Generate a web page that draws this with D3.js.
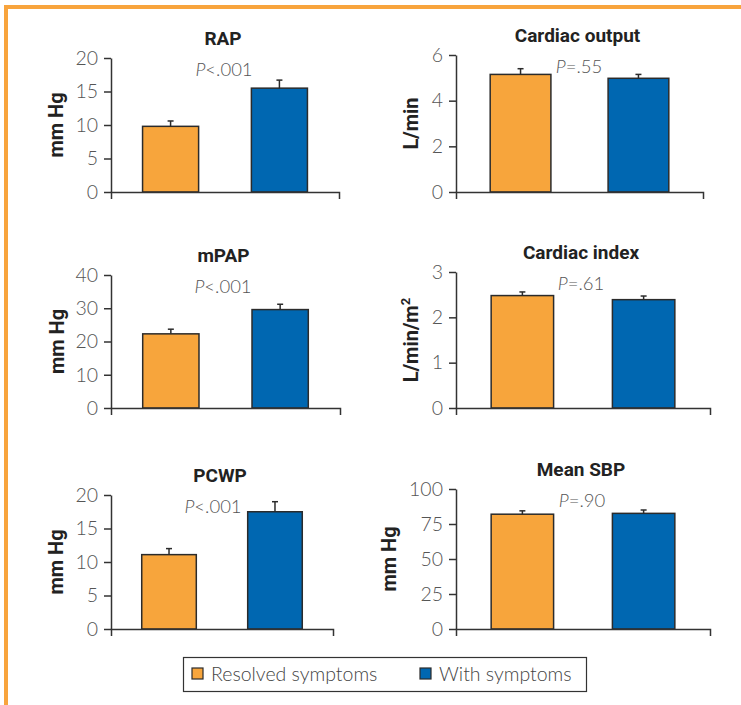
<!DOCTYPE html>
<html>
<head>
<meta charset="utf-8">
<script src="https://cdn.jsdelivr.net/npm/d3@7"></script>
<style>
body { margin: 0; background: #fff; }
svg { display: block; }
</style>
</head>
<body>
<svg id="chart"></svg>
<script>
// values
const groups = ["Resolved symptoms", "With symptoms"];
const titles = ["RAP", "Cardiac output", "mPAP", "Cardiac index", "PCWP", "Mean SBP"];
const yLabels = ["mm Hg", "L/min", "mm Hg", "L/min/m2", "mm Hg", "mm Hg"];
const pValues = ["<.001", "=.55", "<.001", "=.61", "<.001", "=.90"];
const resolvedMeans = [9.8, 5.15, 22.3, 2.48, 11.1, 82];
const resolvedErrors = [0.8, 0.25, 1.4, 0.08, 0.9, 2.4];
const symptomMeans = [15.5, 4.98, 29.6, 2.39, 17.5, 82.6];
const symptomErrors = [1.2, 0.17, 1.6, 0.08, 1.5, 2.4];
const yMax = [20, 6, 40, 3, 20, 100];
const yTicks = [
    [0, 5, 10, 15, 20],
    [0, 2, 4, 6],
    [0, 10, 20, 30, 40],
    [0, 1, 2, 3],
    [0, 5, 10, 15, 20],
    [0, 25, 50, 75, 100]
];

const colors = ["#F7A53C", "#0067B1"];

// where each small panel sits on the page
const layout = [
    {x0: 111, x1: 339, top: 58, zero: 192, labelX: 63, pX: 224},
    {x0: 456, x1: 703, top: 55, zero: 192, labelX: 418, pX: 579},
    {x0: 111, x1: 340, top: 275, zero: 408, labelX: 64, pX: 223},
    {x0: 456, x1: 710, top: 272, zero: 408, labelX: 418, pX: 581},
    {x0: 111, x1: 333, top: 495, zero: 629, labelX: 63, pX: 213},
    {x0: 456, x1: 710, top: 489, zero: 629, labelX: 396, pX: 582}
];

const lightFont = "Lato, 'Open Sans', sans-serif";
const boldFont = "Roboto, 'Noto Sans', sans-serif";

const svg = d3.select('#chart')
    .attr('width', 741)
    .attr('height', 705);

// orange frame on top and left
svg.append('path')
    .attr('d', 'M6,705 V7 H741')
    .attr('fill', 'none')
    .attr('stroke', '#F8A43D')
    .attr('stroke-width', 4);

class BarPanel {

    constructor( config, data ) {
        this.config = config;
        this.data = data;
        this.init();
    }

    init() {
        let self = this;
        const c = self.config;

        self.g = svg.append('g');

        self.xscale = d3.scaleBand()
            .domain( groups )
            .range( [c.x0, c.x1] )
            .paddingInner( 0.485 )
            .paddingOuter( 0.29 );

        self.yscale = d3.scaleLinear()
            .domain( [0, c.ymax] )
            .range( [c.zero, c.top] );

        self.render();
    }

    render() {
        let self = this;
        const c = self.config;

        // bars
        self.g.selectAll('rect.bar')
            .data( self.data )
            .join('rect')
            .attr('class', 'bar')
            .attr('x', d => self.xscale( d.group ))
            .attr('y', d => self.yscale( d.mean ))
            .attr('width', self.xscale.bandwidth())
            .attr('height', d => c.zero - self.yscale( d.mean ))
            .attr('fill', (d, i) => colors[i])
            .attr('stroke', '#2b2b2b')
            .attr('stroke-width', 1.5);

        // error bars (upper half only)
        const cx = d => self.xscale( d.group ) + self.xscale.bandwidth() / 2;
        self.g.selectAll('line.err')
            .data( self.data )
            .join('line')
            .attr('class', 'err')
            .attr('x1', cx).attr('x2', cx)
            .attr('y1', d => self.yscale( d.mean ))
            .attr('y2', d => self.yscale( d.mean + d.err ))
            .attr('stroke', '#2b2b2b')
            .attr('stroke-width', 1.5);
        self.g.selectAll('line.cap')
            .data( self.data )
            .join('line')
            .attr('class', 'cap')
            .attr('x1', d => cx(d) - 3).attr('x2', d => cx(d) + 3)
            .attr('y1', d => self.yscale( d.mean + d.err ))
            .attr('y2', d => self.yscale( d.mean + d.err ))
            .attr('stroke', '#2b2b2b')
            .attr('stroke-width', 1.5);

        // axes
        const yaxis = d3.axisLeft( self.yscale )
            .tickValues( c.ticks )
            .tickFormat( d => d )
            .tickSize( 7 )
            .tickSizeOuter( 0 )
            .tickPadding( 6 );
        self.g.append('g')
            .attr('transform', `translate(${c.x0}, 0)`)
            .call( yaxis )
            .call( g => g.selectAll('path, line').attr('stroke', '#333').attr('stroke-width', 1.5) )
            .call( g => g.selectAll('text')
                .attr('fill', '#555')
                .style('font-family', lightFont)
                .style('font-weight', 300)
                .style('font-size', '19.5px') );

        const xaxis = d3.axisBottom( self.xscale )
            .tickValues( [] )
            .tickSizeOuter( 7 );
        self.g.append('g')
            .attr('transform', `translate(0, ${c.zero})`)
            .call( xaxis )
            .call( g => g.selectAll('path').attr('stroke', '#333').attr('stroke-width', 1.5) );

        // title
        self.g.append('text')
            .attr('x', (c.x0 + c.x1) / 2 - 2)
            .attr('y', c.top - 13)
            .attr('text-anchor', 'middle')
            .style('font-family', boldFont)
            .style('font-weight', 700)
            .style('font-size', '19px')
            .attr('fill', '#222')
            .text( c.title );

        // P value
        const p = self.g.append('text')
            .attr('x', c.pX)
            .attr('y', c.top + 18)
            .attr('text-anchor', 'middle')
            .style('font-family', lightFont)
            .style('font-weight', 300)
            .style('font-size', '18.5px')
            .attr('fill', '#555');
        p.append('tspan').style('font-style', 'italic').text('P');
        p.append('tspan').text( c.p );

        // y label
        const yl = self.g.append('text')
            .attr('transform', `translate(${c.labelX}, ${(c.top + c.zero) / 2}) rotate(-90)`)
            .attr('text-anchor', 'middle')
            .style('font-family', boldFont)
            .style('font-weight', 700)
            .style('font-size', '20px')
            .attr('fill', '#222');
        if ( c.ylabel.endsWith('m2') ) {
            yl.append('tspan').text( c.ylabel.slice(0, -1) );
            yl.append('tspan')
                .attr('dy', -8)
                .style('font-size', '13px')
                .text('2');
        } else {
            yl.text( c.ylabel );
        }
    }
}

titles.forEach( (t, i) => {
    const data = [
        {group: groups[0], mean: resolvedMeans[i], err: resolvedErrors[i]},
        {group: groups[1], mean: symptomMeans[i], err: symptomErrors[i]}
    ];
    new BarPanel( Object.assign({}, layout[i], {
        title: t,
        ylabel: yLabels[i],
        p: pValues[i],
        ymax: yMax[i],
        ticks: yTicks[i]
    }), data );
});

// legend
const legend = svg.append('g');
legend.append('rect')
    .attr('x', 183.5).attr('y', 657.5)
    .attr('width', 403).attr('height', 34)
    .attr('fill', '#fff')
    .attr('stroke', '#333')
    .attr('stroke-width', 1.2);

const legendX = [192, 420];
groups.forEach( (g, i) => {
    legend.append('rect')
        .attr('x', legendX[i]).attr('y', 668)
        .attr('width', 11).attr('height', 11)
        .attr('fill', colors[i])
        .attr('stroke', '#2b2b2b')
        .attr('stroke-width', 1.2);
    legend.append('text')
        .attr('x', legendX[i] + 19)
        .attr('y', 681)
        .style('font-family', lightFont)
        .style('font-weight', 300)
        .style('font-size', '19.5px')
        .attr('fill', '#444')
        .text( g );
});
</script>
</body>
</html>
